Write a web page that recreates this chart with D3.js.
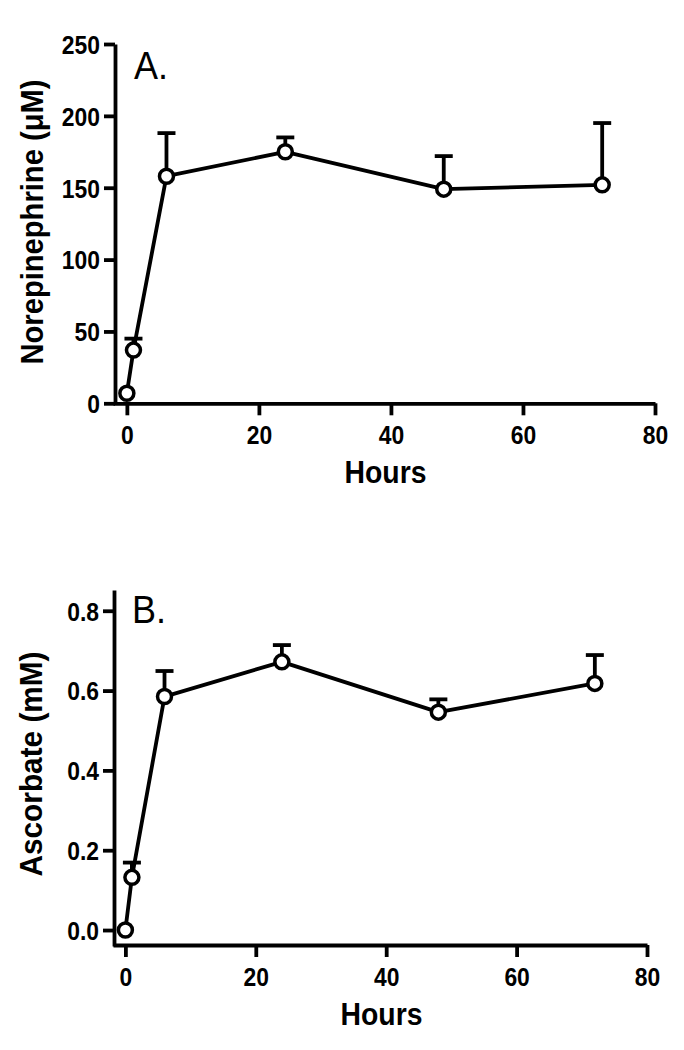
<!DOCTYPE html>
<html>
<head>
<meta charset="utf-8">
<script src="https://cdn.jsdelivr.net/npm/d3@7"></script>
<style>
  html, body { margin: 0; padding: 0; background: #fff; }
  svg { display: block; }
  text { font-family: "Liberation Sans", Arial, Helvetica, sans-serif; fill: #000; }
</style>
</head>
<body>
<svg id="chart" width="684" height="1050"></svg>
<script>
// ---- Data ----
const hours = [0, 1, 6, 24, 48, 72];
const norepinephrine = [7, 37, 158, 175, 149, 152];      // µM
const norepinephrineErr = [7, 45, 188, 185, 172, 195];   // upper error bar top
const ascorbate = [0.0, 0.132, 0.585, 0.672, 0.546, 0.618]; // mM
const ascorbateErr = [0.0, 0.169, 0.649, 0.714, 0.578, 0.689];
const xTicks = [0, 20, 40, 60, 80];
const yTicksA = [0, 50, 100, 150, 200, 250];
const yTicksB = [0, 0.2, 0.4, 0.6, 0.8];

const svg = d3.select("#chart");

function panel(cfg) {
  const g = svg.append("g");
  const x = d3.scaleLinear().domain(cfg.xDomain).range(cfg.xRange);
  const y = d3.scaleLinear().domain(cfg.yDomain).range(cfg.yRange);
  const lw = 3.8;

  // axes
  const yAxis = d3.axisLeft(y).tickValues(cfg.yTicks).tickFormat(cfg.yFormat)
    .tickSizeInner(11).tickSizeOuter(0).tickPadding(4);
  const ya = g.append("g").attr("transform", `translate(${cfg.yAxisX},0)`).call(yAxis);
  const xAxis = d3.axisBottom(x).tickValues(xTicks).tickFormat(d3.format("d"))
    .tickSizeInner(12).tickSizeOuter(0);
  const xa = g.append("g").attr("transform", `translate(0,${cfg.xAxisY})`).call(xAxis);

  [ya, xa].forEach(a => {
    a.select(".domain").attr("stroke", "#000").attr("stroke-width", lw);
    a.selectAll(".tick line").attr("stroke", "#000").attr("stroke-width", lw);
    a.selectAll(".tick text").attr("font-size", 26).attr("font-weight", "bold")
      .attr("fill", "#000").style("font-family", '"Liberation Sans", Arial, sans-serif');
  });
  ya.selectAll(".tick text").attr("dy", "0.36em");
  xa.selectAll(".tick text").attr("y", 41).attr("dy", 0);
  [ya, xa].forEach(a => a.selectAll(".tick text").each(function () {
    const w = this.getComputedTextLength();
    d3.select(this).attr("textLength", w * 0.88).attr("lengthAdjust", "spacingAndGlyphs");
  }));

  // data
  const pts = hours.map((h, i) => ({ h, v: cfg.values[i], e: cfg.err[i] }));

  // error bars (upper only)
  const eb = g.append("g").attr("stroke", "#000").attr("stroke-width", lw);
  pts.filter(d => d.e > d.v).forEach(d => {
    eb.append("line").attr("x1", x(d.h)).attr("x2", x(d.h))
      .attr("y1", y(d.v)).attr("y2", y(d.e));
    eb.append("line").attr("x1", x(d.h) - 9).attr("x2", x(d.h) + 9)
      .attr("y1", y(d.e)).attr("y2", y(d.e));
  });

  const line = d3.line().x(d => x(d.h)).y(d => y(d.v));
  g.append("path").datum(pts).attr("d", line)
    .attr("fill", "none").attr("stroke", "#000").attr("stroke-width", lw)
    .attr("stroke-linejoin", "round");

  g.selectAll("circle.pt").data(pts).enter().append("circle")
    .attr("class", "pt")
    .attr("cx", d => x(d.h)).attr("cy", d => y(d.v)).attr("r", 7)
    .attr("fill", "#fff").attr("stroke", "#000").attr("stroke-width", 3.5);

  // labels
  g.append("text").attr("x", cfg.letterPos[0]).attr("y", cfg.letterPos[1])
    .attr("font-size", 38).attr("textLength", 34).attr("lengthAdjust", "spacingAndGlyphs")
    .text(cfg.letter);

  g.append("text")
    .attr("x", (cfg.xRange[0] + cfg.xRange[1]) / 2 + 1.5).attr("y", cfg.xAxisY + 80)
    .attr("text-anchor", "middle").attr("font-size", 31).attr("font-weight", "bold")
    .attr("textLength", 82).attr("lengthAdjust", "spacingAndGlyphs")
    .text("Hours");

  g.append("text")
    .attr("transform", `translate(${cfg.yLabelPos[0]},${cfg.yLabelPos[1]}) rotate(-90)`)
    .attr("text-anchor", "middle").attr("font-size", 31).attr("font-weight", "bold")
    .attr("textLength", cfg.yLabelLen).attr("lengthAdjust", "spacingAndGlyphs")
    .text(cfg.yLabel);
}

panel({
  xDomain: [-2.1, 80], xRange: [113, 655],
  yDomain: [0, 250], yRange: [403.3, 44],
  yAxisX: 115, xAxisY: 403.3,
  yTicks: yTicksA, yFormat: d3.format("d"),
  values: norepinephrine, err: norepinephrineErr,
  letter: "A.", letterPos: [134, 79],
  yLabel: "Norepinephrine (\u03bcM)", yLabelPos: [43, 222], yLabelLen: 285
});

panel({
  xDomain: [-1.9, 80], xRange: [113, 647],
  yDomain: [-0.04, 0.852], yRange: [946, 590],
  yAxisX: 114, xAxisY: 945,
  yTicks: yTicksB, yFormat: d3.format(".1f"),
  values: ascorbate, err: ascorbateErr,
  letter: "B.", letterPos: [132, 623],
  yLabel: "Ascorbate (mM)", yLabelPos: [42, 764], yLabelLen: 225
});
</script>
</body>
</html>
